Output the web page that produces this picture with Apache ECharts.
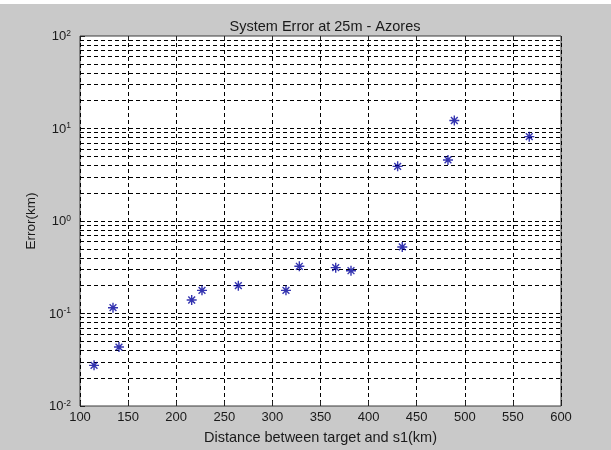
<!DOCTYPE html>
<html>
<head>
<meta charset="utf-8">
<script src="https://cdn.jsdelivr.net/npm/echarts@6/dist/echarts.min.js"></script>
<style>
  html, body { margin: 0; padding: 0; background: #c9c9c9; }
  #chart { width: 611px; height: 450px; }
</style>
</head>
<body>
<div id="chart"></div>
<script>
// Distance between target and s1 (km)
const distanceKm = [114.6, 134.3, 140.5, 216.1, 226.8, 264.6, 314.1, 328.0, 365.8, 381.7, 430.2, 435.0, 482.5, 489.1, 567.0];
// System error (km)
const errorKm = [0.0275, 0.1155, 0.0434, 0.140, 0.178, 0.200, 0.178, 0.324, 0.313, 0.290, 3.90, 0.524, 4.57, 12.2, 8.16];

// Axis ranges and ticks
const xTicks = [100, 150, 200, 250, 300, 350, 400, 450, 500, 550, 600];
const yDecades = [0.01, 0.1, 1, 10, 100];
const yExponents = { '0.01': '-2', '0.1': '-1', '1': '0', '10': '1', '100': '2' };
const minorMultipliers = [2, 3, 4, 5, 6, 7, 8, 9];

// Horizontal grid values: every decade plus its 2..9 sub-ticks
const yGridValues = [];
yDecades.forEach(function (d, i) {
  yGridValues.push(d);
  if (i < yDecades.length - 1) {
    minorMultipliers.forEach(function (m) { yGridValues.push(+(d * m).toPrecision(3)); });
  }
});

const points = distanceKm.map(function (x, i) { return [x, errorKm[i]]; });

const textColor = '#1a1a1a';
const fontFamily = '"Liberation Sans", Arial, sans-serif';
const dash = [4, 3];

const chart = echarts.init(document.getElementById('chart'));
chart.setOption({
  backgroundColor: '#c9c9c9',
  animation: false,
  graphic: [{
    type: 'rect', left: 0, top: 0, z: -1,
    shape: { width: 611, height: 4 },
    style: { fill: '#ffffff' }
  }],
  title: {
    text: 'System Error at 25m - Azores',
    left: 320, top: 14, textAlign: 'center',
    textStyle: { fontSize: 14.5, fontWeight: 'normal', color: textColor, fontFamily: fontFamily }
  },
  grid: {
    left: 80, right: 50, top: 36, bottom: 44,
    show: true, backgroundColor: '#ffffff', borderColor: '#3a3a3a', borderWidth: 1
  },
  xAxis: [{
    type: 'value', min: xTicks[0], max: xTicks[xTicks.length - 1], interval: 50,
    name: 'Distance between target and s1(km)', nameLocation: 'middle', nameGap: 24,
    nameTextStyle: { fontSize: 14.5, color: textColor, fontFamily: fontFamily },
    axisLine: { show: false },
    axisTick: { show: true, inside: true, length: 5, lineStyle: { color: '#222' } },
    axisLabel: { fontSize: 13, color: textColor, fontFamily: fontFamily, margin: 5 },
    splitLine: { show: true, lineStyle: { color: '#000', type: dash, width: 1 } }
  }, {
    type: 'value', position: 'top', min: xTicks[0], max: xTicks[xTicks.length - 1], interval: 50,
    axisLine: { show: false },
    axisTick: { show: true, inside: true, length: 5, lineStyle: { color: '#222' } },
    axisLabel: { show: false },
    splitLine: { show: false }
  }],
  yAxis: [{
    type: 'log', logBase: 10, min: yDecades[0], max: yDecades[yDecades.length - 1],
    name: 'Error(km)', nameLocation: 'middle', nameGap: 40,
    nameTextStyle: { fontSize: 13.5, color: textColor, fontFamily: fontFamily },
    axisLine: { show: false },
    axisTick: { show: true, inside: true, length: 5, lineStyle: { color: '#222' } },
    axisLabel: {
      margin: 9,
      formatter: function (v) {
        const key = String(+v.toPrecision(3));
        return '{b|10}{s|' + (yExponents[key] || '') + '}';
      },
      rich: {
        b: { fontSize: 13, color: textColor, fontFamily: fontFamily, lineHeight: 14, verticalAlign: 'bottom' },
        s: { fontSize: 8.5, color: textColor, fontFamily: fontFamily, lineHeight: 14, verticalAlign: 'top', padding: [0, 0, 8, 0] }
      }
    },
    splitLine: { show: false }
  }],
  series: [{
    type: 'line',
    data: [],
    silent: true,
    markLine: {
      silent: true,
      symbol: 'none',
      label: { show: false },
      lineStyle: { color: '#000', type: dash, width: 1 },
      data: yGridValues.slice(1, -1).map(function (v) { return { yAxis: v }; })
    }
  }, {
    type: 'scatter',
    data: points,
    symbol: 'path://M0,-5L0,5M-5,0L5,0M-3.4,-3.4L3.4,3.4M-3.4,3.4L3.4,-3.4',
    symbolSize: 10,
    itemStyle: { color: 'none', borderColor: '#00009c', borderWidth: 1.4 },
    z: 5
  }]
});
</script>
</body>
</html>
